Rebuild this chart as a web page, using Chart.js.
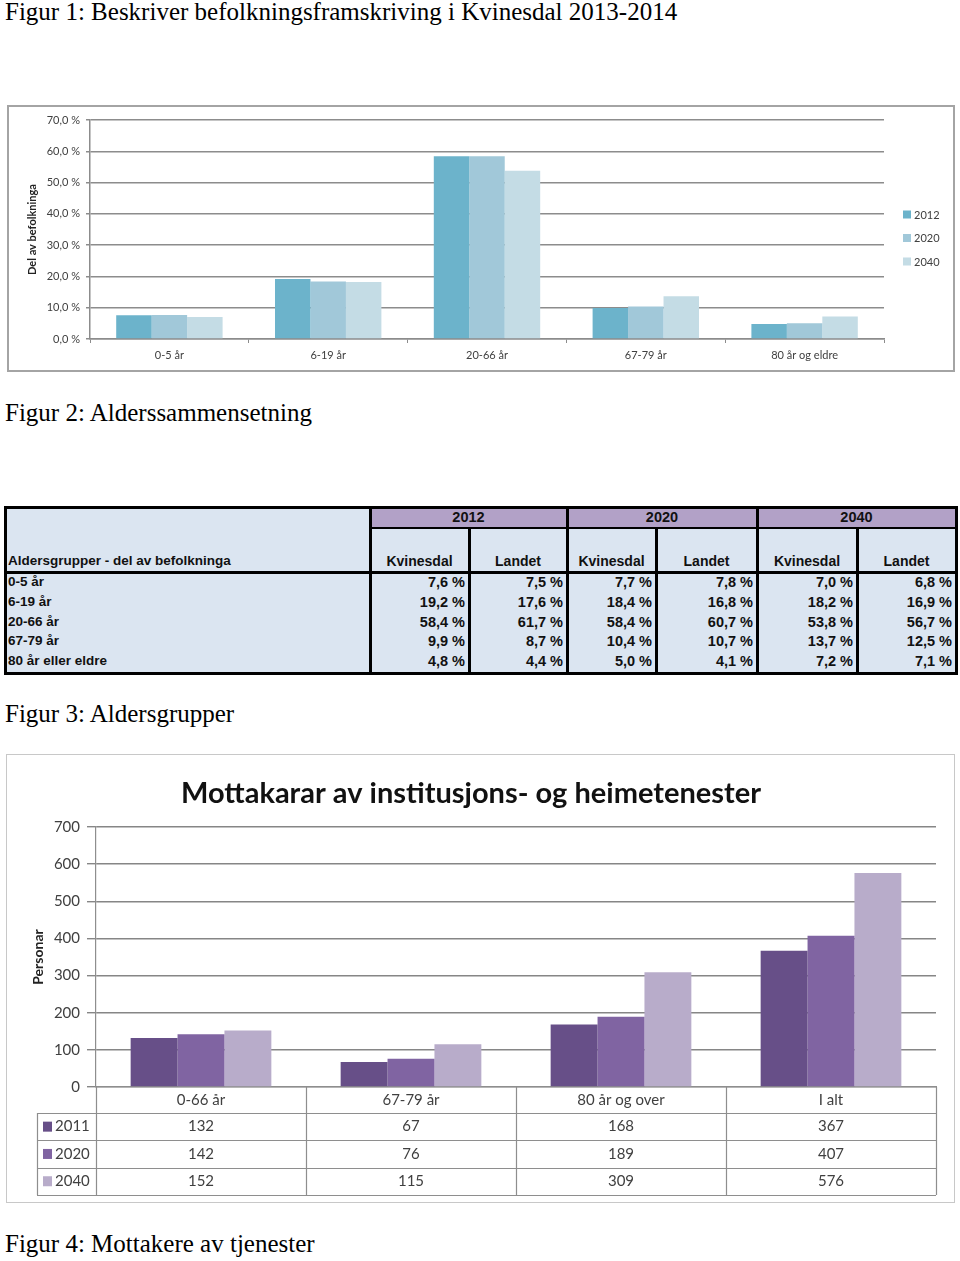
<!DOCTYPE html>
<html>
<head>
<meta charset="utf-8">
<script src="https://cdn.jsdelivr.net/npm/chart.js@4.4.0/dist/chart.umd.min.js"></script>
<style>
  html, body { margin:0; padding:0; background:#fff; }
  body { width:960px; height:1261px; position:relative; overflow:hidden; }
  .cap { position:absolute; left:5px; font-family:"Liberation Serif","DejaVu Serif",serif; font-size:25px; line-height:28px; color:#000; white-space:nowrap; }
  .abs { position:absolute; }
  .tbtxt { position:absolute; font-family:"Liberation Sans",Arial,sans-serif; font-weight:bold; font-size:13.5px; color:#111; white-space:nowrap; line-height:16px; }
</style>
</head>
<body>
<div class="cap" style="top:-2px">Figur 1: Beskriver befolkningsframskriving i Kvinesdal 2013-2014</div>
<canvas id="c1" class="abs" style="left:7px;top:105px" width="948" height="267"></canvas>
<div class="abs" style="left:7px;top:105px;width:944px;height:263px;border:2px solid #a4a4a4;pointer-events:none"></div>

<div class="cap" style="top:399px">Figur 2: Alderssammensetning</div>
<div id="tbl" class="abs" style="left:0;top:0"></div>

<div class="cap" style="top:700px">Figur 3: Aldersgrupper</div>
<canvas id="c3" class="abs" style="left:6px;top:754px" width="949" height="449"></canvas>
<div class="abs" style="left:6px;top:754px;width:947px;height:447px;border:1px solid #c8c8c8;pointer-events:none"></div>

<div class="cap" style="top:1230px">Figur 4: Mottakere av tjenester</div>

<script>
// ---------- Figure 1 / Figure 2 data ----------
const fig1Categories = ['0-5 år','6-19 år','20-66 år','67-79 år','80 år og eldre'];
const tableRowLabels = ['0-5 år','6-19 år','20-66 år','67-79 år','80 år eller eldre'];
const years1 = ['2012','2020','2040'];
const kvinesdal2012 = [7.6, 19.2, 58.4, 9.9, 4.8];
const landet2012    = [7.5, 17.6, 61.7, 8.7, 4.4];
const kvinesdal2020 = [7.7, 18.4, 58.4, 10.4, 5.0];
const landet2020    = [7.8, 16.8, 60.7, 10.7, 4.1];
const kvinesdal2040 = [7.0, 18.2, 53.8, 13.7, 7.2];
const landet2040    = [6.8, 16.9, 56.7, 12.5, 7.1];
const fig1Ticks = [0,10,20,30,40,50,60,70];

// ---------- Figure 3 data ----------
const fig3Categories = ['0-66 år','67-79 år','80 år og over','I alt'];
const years3 = ['2011','2020','2040'];
const mott2011 = [132, 67, 168, 367];
const mott2020 = [142, 76, 189, 407];
const mott2040 = [152, 115, 309, 576];

const pct = v => v.toFixed(1).replace('.', ',') + ' %';

// ---------- Figure 1 chart ----------
const col1 = ['#6cb3cb','#a1c8d9','#c4dce5'];
const legend1 = {
  id:'legend1',
  afterDraw(chart){
    const ctx = chart.ctx;
    ctx.save();
    ctx.font = '11px Lato';
    ctx.textBaseline = 'middle';
    chart.data.datasets.forEach((ds,i)=>{
      const y = 110 + i*23.5;
      ctx.fillStyle = ds.backgroundColor;
      ctx.fillRect(896, y-4.5, 8, 8);
      ctx.fillStyle = '#404040';
      ctx.fillText(ds.label, 907, y);
    });
    ctx.restore();
  }
};
new Chart(document.getElementById('c1'), {
  type:'bar',
  data:{
    labels: fig1Categories,
    datasets:[
      {label:years1[0], data:kvinesdal2012, backgroundColor:col1[0]},
      {label:years1[1], data:kvinesdal2020, backgroundColor:col1[1]},
      {label:years1[2], data:kvinesdal2040, backgroundColor:col1[2]}
    ]
  },
  options:{
    responsive:false, animation:false, devicePixelRatio:1,
    layout:{padding:{left:0, top:15, right:71, bottom:0}},
    plugins:{legend:{display:false}, tooltip:{enabled:false}},
    datasets:{bar:{categoryPercentage:0.67, barPercentage:1}},
    scales:{
      x:{
        grid:{display:true, drawOnChartArea:false, drawTicks:true, tickLength:4, color:'#8c8c8c', lineWidth:1},
        border:{color:'#8c8c8c', width:1.5},
        ticks:{font:{family:'Lato', size:11}, color:'#404040', padding:6},
        afterFit(s){ s.height = 33; }
      },
      y:{
        min:0, max:70,
        afterBuildTicks(s){ s.ticks = fig1Ticks.map(v=>({value:v})); },
        ticks:{callback:v=>pct(v), font:{family:'Lato', size:11}, color:'#404040', padding:6},
        grid:{color:'#8c8c8c', lineWidth:1.5, tickLength:4},
        border:{color:'#8c8c8c', width:1.5},
        title:{display:true, text:'Del av befolkninga', font:{family:'Lato', size:11, weight:'bold'}, color:'#222', padding:{top:19, bottom:0}},
        afterFit(s){ s.width = 83; }
      }
    }
  },
  plugins:[legend1]
});

// ---------- Figure 2 table ----------
(function(){
  const host = document.getElementById('tbl');
  const X = [5, 370, 469, 567, 656, 757, 857, 956];
  const top = 507, h1 = 528, h2 = 572, rowH = 19.8, bottom = 673;
  const cols = [kvinesdal2012, landet2012, kvinesdal2020, landet2020, kvinesdal2040, landet2040];
  const colHead = ['Kvinesdal','Landet','Kvinesdal','Landet','Kvinesdal','Landet'];
  function box(l,t,w,h,bg){ const d=document.createElement('div'); d.className='abs'; Object.assign(d.style,{left:l+'px',top:t+'px',width:w+'px',height:h+'px',background:bg}); host.appendChild(d); return d; }
  function txt(s,l,t,w,align,size){ const d=document.createElement('div'); d.className='tbtxt'; d.textContent=s; Object.assign(d.style,{left:l+'px',top:t+'px',width:w+'px',textAlign:align}); if(size) d.style.fontSize=size+'px'; host.appendChild(d); }
  box(X[0], top, X[7]-X[0], bottom-top, '#dbe5f1');
  box(X[1], top, X[7]-X[1], h1-top, '#b2a1c7');
  // lines
  box(X[1], h1-1, X[7]-X[1], 2, '#000');
  box(X[0], h2-1.5, X[7]-X[0], 3, '#000');
  [1,3,5].forEach(i=>box(X[i]-1.5, top, 3, bottom-top, '#000'));
  [2,4,6].forEach(i=>box(X[i]-1.5, h1, 3, bottom-h1, '#000'));
  // outer border
  const o = box(X[0]-1.5, top-1.5, X[7]-X[0]-3, bottom-top-3, 'transparent');
  o.style.border = '3px solid #000';
  // header texts
  years1.forEach((y,i)=>txt(y, X[1+2*i], top+2, X[3+2*i]-X[1+2*i], 'center', 14.5));
  txt('Aldersgrupper - del av befolkninga', 8, 553, 360, 'left');
  colHead.forEach((s,i)=>txt(s, X[1+i], 553, X[2+i]-X[1+i], 'center', 14));
  tableRowLabels.forEach((s,r)=>{
    const ty = h2 + r*rowH + 2;
    txt(s, 8, ty, 360, 'left');
    cols.forEach((c,i)=>txt(pct(c[r]), X[1+i], ty, X[2+i]-X[1+i]-4, 'right', 14.5));
  });
})();

// ---------- Figure 3 chart ----------
const col3 = ['#674f88','#8064a2','#b8acca'];
const table3 = {
  id:'table3',
  afterDraw(chart){
    const ctx = chart.ctx, a = chart.chartArea, xs = chart.scales.x;
    const n = chart.data.labels.length;
    const half = (a.right - a.left) / (2*n);
    const t0 = a.bottom, hb = t0 + 26, rh = 27.3;
    const rows = chart.data.datasets.length;
    const tb = hb + rows*rh;
    const lx = 31;
    ctx.save();
    ctx.strokeStyle = '#8e8e8e';
    ctx.lineWidth = 1.2;
    ctx.beginPath();
    for (let i=0;i<=n;i++){
      const x = Math.round(a.left + i*2*half) + 0.5;
      ctx.moveTo(x, t0); ctx.lineTo(x, tb);
    }
    ctx.moveTo(lx+0.5, hb); ctx.lineTo(lx+0.5, tb);
    for (let r=0;r<=rows;r++){
      const y = Math.round(hb + r*rh) + 0.5;
      ctx.moveTo(lx, y); ctx.lineTo(a.right, y);
    }
    ctx.stroke();
    ctx.font = '15px Lato';
    ctx.fillStyle = '#404040';
    ctx.textAlign = 'center';
    ctx.textBaseline = 'middle';
    chart.data.labels.forEach((lab,i)=>{
      ctx.fillText(lab, xs.getPixelForValue(i), t0 + 13);
    });
    chart.data.datasets.forEach((ds,r)=>{
      const cy = hb + r*rh + rh/2;
      ds.data.forEach((v,i)=>{
        ctx.fillStyle = '#404040';
        ctx.textAlign = 'center';
        ctx.fillText(String(v), xs.getPixelForValue(i), cy);
      });
      ctx.fillStyle = ds.backgroundColor;
      ctx.fillRect(37, cy-5, 9, 10);
      ctx.fillStyle = '#404040';
      ctx.textAlign = 'left';
      ctx.fillText(ds.label, 49, cy);
    });
    ctx.restore();
  }
};
new Chart(document.getElementById('c3'), {
  type:'bar',
  data:{
    labels: fig3Categories,
    datasets:[
      {label:years3[0], data:mott2011, backgroundColor:col3[0]},
      {label:years3[1], data:mott2020, backgroundColor:col3[1]},
      {label:years3[2], data:mott2040, backgroundColor:col3[2]}
    ]
  },
  options:{
    responsive:false, animation:false, devicePixelRatio:1,
    layout:{padding:{left:0, top:0, right:19, bottom:0}},
    plugins:{
      legend:{display:false}, tooltip:{enabled:false},
      title:{display:true, text:'Mottakarar av institusjons- og heimetenester', font:{family:'Lato', size:29, weight:'bold'}, color:'#111', padding:{top:22.5, bottom:15.7}}
    },
    datasets:{bar:{categoryPercentage:0.67, barPercentage:1}},
    scales:{
      x:{
        grid:{display:false},
        border:{display:true, color:'#8e8e8e', width:1.2},
        ticks:{display:false},
        afterFit(s){ s.height = 116; }
      },
      y:{
        min:0, max:700,
        ticks:{stepSize:100, font:{family:'Lato', size:15}, color:'#404040', padding:7},
        grid:{color:'#868686', lineWidth:1.4, tickLength:9},
        border:{color:'#8e8e8e', width:1.2},
        title:{display:true, text:'Personar', font:{family:'Lato', size:14, weight:'bold'}, color:'#222', padding:{top:24, bottom:0}},
        afterFit(s){ s.width = 90; }
      }
    }
  },
  plugins:[table3]
});
</script>
</body>
</html>
